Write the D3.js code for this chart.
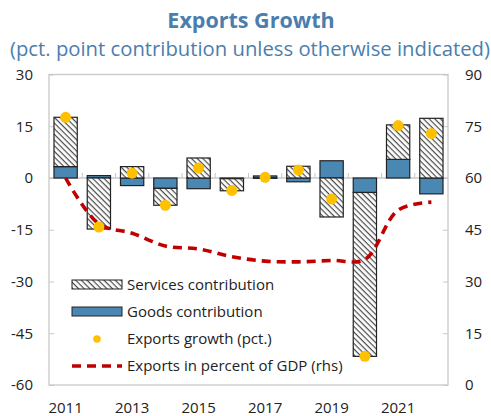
<!DOCTYPE html>
<html><head><meta charset="utf-8">
<script src="https://cdn.jsdelivr.net/npm/d3@7"></script>
<style>body{margin:0;background:#fff}svg{display:block}</style>
</head><body>
<svg id="c" width="491" height="416"></svg>
<script>
const years = ["2011","2012","2013","2014","2015","2016","2017","2018","2019","2020","2021","2022"];
const goods = [3.3, 0.7, -2.2, -3.0, -3.1, -0.2, 0.6, -1.1, 5.0, -4.2, 5.4, -4.6];
const services = [14.3, -14.8, 3.3, -4.9, 5.8, -3.5, -0.1, 3.4, -11.3, -47.5, 10.0, 17.3];
const growth = [17.6, -14.2, 1.4, -7.9, 2.9, -3.6, 0.2, 2.3, -6.1, -51.7, 15.2, 12.9];
const exportsGDP = [60, 46.7, 44.0, 40.3, 39.4, 37.2, 35.9, 35.7, 36.1, 36.4, 50.7, 53.0];
const leftTicks = [30, 15, 0, -15, -30, -45, -60];
const rightTicks = [90, 75, 60, 45, 30, 15, 0];
const xLabels = ["2011","2013","2015","2017","2019","2021"];
const legendLabels = ["Services contribution","Goods contribution","Exports growth (pct.)","Exports in percent of GDP (rhs)"];

const svg = d3.select("#c");
const font = "'Open Sans', sans-serif";
const L = 49, R = 448, T = 74.5, B = 385;
const x = d3.scaleBand().domain(years).range([L, R]).paddingInner(0.3).paddingOuter(0.15);
const y = d3.scaleLinear().domain([-60, 30]).range([B, T]);
const y2 = d3.scaleLinear().domain([0, 90]).range([B, T]);

const defs = svg.append("defs");
const pat = defs.append("pattern").attr("id","hatch").attr("patternUnits","userSpaceOnUse")
  .attr("width",4).attr("height",4).attr("patternTransform","rotate(45)");
pat.append("rect").attr("width",4).attr("height",4).attr("fill","#fff");
pat.append("line").attr("x1",0).attr("y1",0).attr("x2",4).attr("y2",0)
  .attr("stroke","#4a4a4a").attr("stroke-width",2.4);

// titles
svg.append("text").attr("x",251).attr("y",28).attr("text-anchor","middle")
  .attr("font-family",font).attr("font-weight","bold").attr("font-size",21.5).attr("fill","#4a7eae")
  .text("Exports Growth");
svg.append("text").attr("x",250).attr("y",56).attr("text-anchor","middle")
  .attr("font-family",font).attr("font-size",19.5).attr("fill","#4a7eae")
  .attr("textLength",480).attr("lengthAdjust","spacingAndGlyphs")
  .text("(pct. point contribution unless otherwise indicated)");

// plot frame
svg.append("rect").attr("x",L).attr("y",T).attr("width",R-L).attr("height",B-T)
  .attr("fill","none").attr("stroke","#c8c8c8").attr("stroke-width",1.3);

// left axis
const la = svg.append("g").attr("transform",`translate(${L},0)`)
  .call(d3.axisRight(y).tickValues(leftTicks).tickSize(5).tickFormat(""));
la.select(".domain").remove();
la.selectAll("line").attr("stroke","#c8c8c8");
svg.append("g").selectAll("text").data(leftTicks).join("text")
  .attr("x",33).attr("y",d=>y(d)).attr("dy","0.35em").attr("text-anchor","end")
  .attr("font-family",font).attr("font-size",15).attr("fill","#222").text(d=>d);

// right axis
const ra = svg.append("g").attr("transform",`translate(${R},0)`)
  .call(d3.axisLeft(y2).tickValues(rightTicks).tickSize(5).tickFormat(""));
ra.select(".domain").remove();
ra.selectAll("line").attr("stroke","#c8c8c8");
svg.append("g").selectAll("text").data(rightTicks).join("text")
  .attr("x",465).attr("y",d=>y2(d)).attr("dy","0.35em").attr("text-anchor","start")
  .attr("font-family",font).attr("font-size",15).attr("fill","#222").text(d=>d);

// zero line with ticks at band boundaries
svg.append("line").attr("x1",L).attr("x2",R).attr("y1",y(0)).attr("y2",y(0))
  .attr("stroke","#c8c8c8").attr("stroke-width",1.3);
const bounds = years.slice(1).map(yr => x(yr) - x.step()*x.paddingInner()/2);
svg.append("g").selectAll("line").data(bounds).join("line")
  .attr("x1",d=>d).attr("x2",d=>d).attr("y1",y(0)).attr("y2",y(0)-5)
  .attr("stroke","#c8c8c8");

// x labels
svg.append("g").selectAll("text").data(xLabels).join("text")
  .attr("x",d=>x(d)+x.bandwidth()/2).attr("y",408).attr("dy","0.35em").attr("text-anchor","middle")
  .attr("font-family",font).attr("font-size",15).attr("fill","#222").text(d=>d);

// stacked bars
const table = years.map((yr,i)=>({year:yr, goods:goods[i], services:services[i]}));
const stack = d3.stack().keys(["goods","services"]).offset(d3.stackOffsetDiverging)(table);
const fills = {goods:"#4a88b3", services:"url(#hatch)"};
stack.forEach(s=>{
  svg.append("g").selectAll("rect").data(s).join("rect")
    .attr("x",d=>x(d.data.year)).attr("width",x.bandwidth())
    .attr("y",d=>y(Math.max(d[0],d[1]))).attr("height",d=>Math.abs(y(d[0])-y(d[1])))
    .attr("fill",fills[s.key]).attr("stroke","#222").attr("stroke-width",1.2);
});

// line (rhs)
const line = d3.line().x((d,i)=>x(years[i])+x.bandwidth()/2).y(d=>y2(d)).curve(d3.curveCatmullRom.alpha(0.5));
svg.append("path").datum(exportsGDP).attr("d",line).attr("fill","none")
  .attr("stroke","#c00000").attr("stroke-width",3.6).attr("stroke-dasharray","9,6");

// dots
svg.append("g").selectAll("circle").data(growth).join("circle")
  .attr("cx",(d,i)=>x(years[i])+x.bandwidth()/2).attr("cy",d=>y(d)).attr("r",5.5).attr("fill","#ffc000");

// legend
const lg = svg.append("g");
const ly = [284.5, 311.5, 339, 366];
lg.append("rect").attr("x",72).attr("y",ly[0]-4.5).attr("width",50).attr("height",9)
  .attr("fill","url(#hatch)").attr("stroke","#222").attr("stroke-width",1);
lg.append("rect").attr("x",72).attr("y",ly[1]-4.5).attr("width",50).attr("height",9)
  .attr("fill","#4a88b3").attr("stroke","#222").attr("stroke-width",1);
lg.append("circle").attr("cx",97).attr("cy",ly[2]).attr("r",3.8).attr("fill","#ffc000");
lg.append("line").attr("x1",72).attr("x2",122).attr("y1",ly[3]).attr("y2",ly[3])
  .attr("stroke","#c00000").attr("stroke-width",3.6).attr("stroke-dasharray","9,6");
lg.selectAll("text").data(legendLabels).join("text")
  .attr("x",127).attr("y",(d,i)=>ly[i]).attr("dy","0.35em")
  .attr("font-family",font).attr("font-size",15).attr("fill","#222").text(d=>d);
</script>
</body></html>
